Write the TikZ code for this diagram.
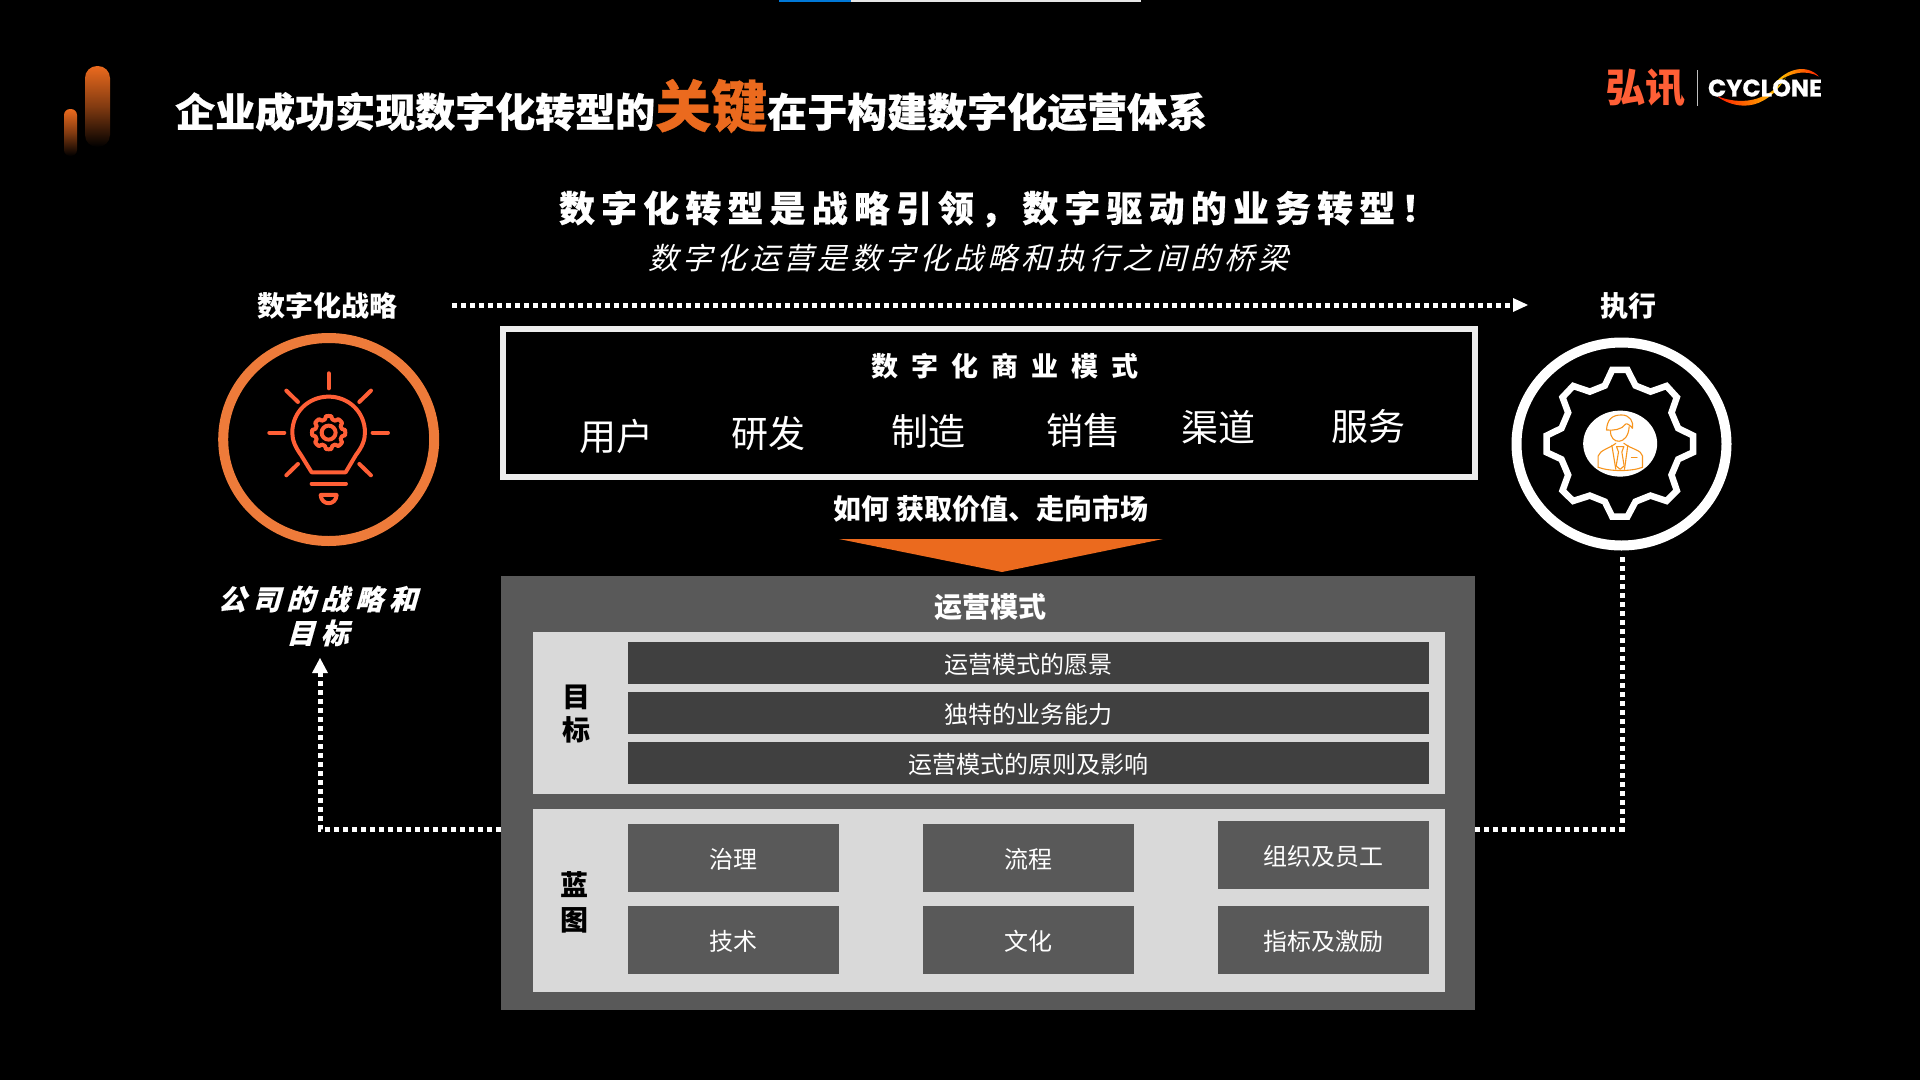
\documentclass[tikz,border=0pt]{standalone}
\usepackage{fontspec}
\usetikzlibrary{shapes.geometric,arrows.meta}
\setmainfont{Noto Sans CJK SC}
\newfontfamily\fheavy[FakeBold=0.6]{Noto Sans CJK SC}
\newfontfamily\fsub[LetterSpace=17,FakeBold=0.4]{Noto Sans CJK SC}
\newfontfamily\fbridge[FakeSlant=0.25,LetterSpace=13]{Noto Sans CJK SC}
\newfontfamily\fmodel[LetterSpace=48]{Noto Sans CJK SC}
\newfontfamily\fgoal[FakeSlant=0.28,LetterSpace=22,FakeBold=0.3]{Noto Sans CJK SC}
\newfontfamily\flogo[FakeBold=0.4]{Poppins}
\newcommand{\fsz}[1]{\fontsize{#1}{#1}\selectfont}
\definecolor{brand}{HTML}{EB6A1E}
\definecolor{bulbc}{HTML}{FF5F36}
\definecolor{ringc}{HTML}{EE7B3A}
\definecolor{boxgray}{HTML}{595959}
\definecolor{bardark}{HTML}{404040}
\definecolor{panel}{HTML}{D9D9D9}
\definecolor{personc}{HTML}{F7941D}
\definecolor{stripblue}{HTML}{0078D7}
\definecolor{stripgray}{HTML}{E6E6E6}
\tikzset{
  txt/.style={text=white,inner sep=0pt,outer sep=0pt,align=center},
  head/.style={txt,font=\fsz{28}\bfseries},
  menuitem/.style={txt,font=\fsz{37}},
  barbox/.style={fill=bardark,text=white,draw=none,inner sep=0pt,outer sep=0pt,minimum width=801pt,minimum height=42pt,font=\fsz{24},anchor=north west,text height=20pt,text depth=0pt},
  bluebox/.style={fill=boxgray,text=white,draw=none,inner sep=0pt,outer sep=0pt,minimum width=211pt,minimum height=68pt,font=\fsz{24},anchor=north west,text height=20pt,text depth=0pt},
  panelbox/.style={fill=panel,draw=none,inner sep=0pt,outer sep=0pt,minimum width=912pt,anchor=north west},
  sidelabel/.style={text=black,inner sep=0pt,font=\fsz{28}\bfseries},
  dotline/.style={white,line width=5pt,dash pattern=on 4.6pt off 4.4pt},
  tipfill/.style={white,draw=none,fill=white},
  ring/.style={ellipse,draw,line width=10pt,inner sep=0pt,outer sep=0pt,fill=none},
  iconline/.style={bulbc,line width=4pt,line cap=round,line join=round}
}
\begin{document}
\begin{tikzpicture}[x=1pt,y=-1pt]
\useasboundingbox (0,0) rectangle (1920,1079.6);
\fill[black] (-5,-5) rectangle (1925,1085);
% top progress strip
\fill[stripgray] (851,0) rectangle (1141,2);
\fill[stripblue] (779,0) rectangle (851,2);
% corner bars
\shade[top color=brand,bottom color=black,middle color=brand!55!black,rounded corners=12pt] (85,66) rectangle (110,147);
\shade[top color=brand,bottom color=black,middle color=brand!55!black,rounded corners=6pt] (64,109) rectangle (77,156);
% title
\node[anchor=base west,text=white,inner sep=0pt,font=\fsz{40}\fheavy\bfseries] (title1) at (175,127) {企业成功实现数字化转型的};
\node[anchor=base west,text=brand,inner sep=0pt,font=\fsz{56}\fheavy\bfseries] (title2) at (655,127) {关键};
\node[anchor=base west,text=white,inner sep=0pt,font=\fsz{40}\fheavy\bfseries] (title3) at (767,127) {在于构建数字化运营体系};
% logo
\node[anchor=center,text=bulbc,inner sep=0pt,font=\fsz{40}\bfseries] (logocn) at (1645,88) {弘讯};
\draw[white!75!black,line width=0.7pt] (1697,70) -- (1697,106);
\begin{scope}[x=0.3333pt,y=-0.3333pt,shift={(4800,180)}]
\shade[left color=red!80!orange,right color=yellow!70!orange,draw=none]
 (350,108) .. controls (400,145) and (490,165) .. (560,50) .. controls (500,130) and (420,135) .. (350,108) -- cycle;
\shade[left color=yellow!70!orange,right color=red!75!orange,draw=none]
 (520,75) .. controls (560,25) and (620,10) .. (658,50) .. controls (620,28) and (570,35) .. (520,75) -- cycle;
\end{scope}
\node[anchor=center,text=white,inner sep=0pt,font=\fsz{24}\flogo\bfseries] (logoen) at (1765,88) {CYCLONE};
% headings
\node[txt,font=\fsz{36}\fsub\bfseries,anchor=west] (sub1) at (559,209) {数字化转型是战略引领，数字驱动的业务转型！};
\node[txt,font=\fsz{30}\fbridge] (sub2) at (968.5,258) {数字化运营是数字化战略和执行之间的桥梁};
\node[head] (stratlabel) at (327,305.5) {数字化战略};
\node[head] (execlabel) at (1628,305.5) {执行};
% strategy icon
\node[ring,draw=ringc,minimum width=211pt,minimum height=203pt] (stratring) at (328.7,439.5) {};
\begin{scope}[x=0.3333pt,y=-0.3333pt,shift={(600,960)}]
\draw[iconline] (335,457) -- (437,457) -- (468,405) .. controls (487,380) and (495,360) .. (495,338)
   .. controls (495,275) and (445,230) .. (386,230) .. controls (327,230) and (277,275) .. (277,338)
   .. controls (277,360) and (285,380) .. (303,405) -- cycle;
\draw[iconline] (386,160) -- (386,205);
\draw[iconline] (208,338) -- (253,338);
\draw[iconline] (518,338) -- (564,338);
\draw[iconline] (259,212) -- (294,246);
\draw[iconline] (513,212) -- (478,246);
\draw[iconline] (294,432) -- (259,466);
\draw[iconline] (478,432) -- (513,466);
\draw[iconline] (335,491) -- (438,491);
\draw[iconline] (362,525) -- (410,525) .. controls (408,558) and (364,558) .. (362,525) -- cycle;
\begin{scope}[shift={(386,338)}]
\draw[iconline] (0:50) \foreach \a in {0,45,...,315}{ -- (\a+9:50) -- (\a+16:41) -- (\a+29:41) -- (\a+36:50) -- (\a+45:50)} -- cycle;
\draw[iconline] (0,0) circle[radius=21];
\end{scope}
\end{scope}
% execution icon
\node[ring,draw=white,minimum width=210pt,minimum height=203pt] (execring) at (1621.5,444) {};
\begin{scope}[x=0.3333pt,y=-0.3333pt,shift={(4470,960)}]
\draw[white,line width=6.5pt,line join=miter] (367,150) -- (413,150) -- (437,197) -- (482,215) -- (530,198) -- (561,232) -- (545,278) -- (565,325) -- (610,347) -- (610,397) -- (565,418) -- (545,465) -- (561,512) -- (530,543) -- (482,527) -- (437,545) -- (413,590) -- (367,590) -- (345,545) -- (300,527) -- (250,543) -- (218,512) -- (235,465) -- (215,418) -- (170,397) -- (170,347) -- (215,325) -- (235,278) -- (218,232) -- (250,198) -- (300,215) -- (345,197) -- cycle;
\fill[white] (391,371) ellipse[x radius=111,y radius=99];
\begin{scope}[personc,line width=1.1pt,line join=round,line cap=round]
\draw (350,330) .. controls (352,300) and (365,285) .. (395,285) .. controls (420,285) and (432,305) .. (428,325) .. controls (420,315) and (412,310) .. (408,312) .. controls (395,330) and (370,332) .. (350,330) -- cycle;
\draw (362,332) .. controls (360,375) and (415,378) .. (418,320);
\draw (325,442) -- (325,408) .. controls (330,390) and (360,385) .. (378,370);
\draw (402,370) .. controls (425,388) and (455,390) .. (458,408) -- (458,442);
\draw (325,442) .. controls (360,455) and (425,455) .. (458,442);
\draw (366,376) -- (378,448);
\draw (414,376) -- (404,448);
\draw (380,380) -- (402,380) -- (396,396) -- (403,438) -- (391,448) -- (379,438) -- (386,396) -- cycle;
\draw (425,412) -- (442,412);
\end{scope}
\end{scope}
% business model frame
\node[draw=white!93!black,line width=6pt,fill=none,inner sep=0pt,outer sep=0pt,minimum width=972pt,minimum height=148pt,anchor=north west] (frame) at (503,329) {};
\node[txt,font=\fsz{27}\fmodel\bfseries] (bm) at (1005,366) {数字化商业模式};
\node[menuitem] (i1) at (616,436) {用户};
\node[menuitem] (i2) at (768,433) {研发};
\node[menuitem] (i3) at (928,431) {制造};
\node[menuitem] (i4) at (1083,430) {销售};
\node[menuitem] (i5) at (1218,427) {渠道};
\node[menuitem] (i6) at (1368,426) {服务};
\node[txt,font=\fsz{28}\bfseries] (how) at (991,509) {如何 获取价值、走向市场};
\fill[brand] (839,539) -- (1163,539) -- (1002,572) -- cycle;
% operating model
\node[fill=boxgray,inner sep=0pt,outer sep=0pt,minimum width=974pt,minimum height=434pt,anchor=north west] (opbox) at (501,576) {};
\node[head] (optitle) at (990.5,607) {运营模式};
\node[panelbox,minimum height=162pt] (goalpanel) at (533,632) {};
\node[panelbox,minimum height=183pt] (bluepanel) at (533,809) {};
\node[barbox] (b1) at (628,642) {运营模式的愿景};
\node[barbox] (b2) at (628,692) {独特的业务能力};
\node[barbox] (b3) at (628,742) {运营模式的原则及影响};
\node[sidelabel] (g1) at (576,697) {目};
\node[sidelabel] (g2) at (576,730) {标};
\node[sidelabel] (l1) at (574,885) {蓝};
\node[sidelabel] (l2) at (574,920) {图};
\node[bluebox] (c1) at (628,824) {治理};
\node[bluebox] (c2) at (923,824) {流程};
\node[bluebox] (c3) at (1218,821) {组织及员工};
\node[bluebox] (c4) at (628,906) {技术};
\node[bluebox] (c5) at (923,906) {文化};
\node[bluebox] (c6) at (1218,906) {指标及激励};
% goal text
\node[text=white,inner sep=0pt,outer sep=0pt,align=center,font=\fontsize{28}{34}\selectfont\fgoal\bfseries] (goal) at (317.5,616) {公司的战略和\\目标};
% connectors
\coordinate (topstart) at (452,305);
\coordinate (topend) at (1514,305);
\coordinate (toptip) at (1528,305);
\draw[dotline] (topstart) -- (topend);
\fill[tipfill] (1513,298) -- (toptip) -- (1513,312) -- cycle;
\coordinate (lcorner) at (320,829);
\coordinate (ltip) at (320,658);
\coordinate (lend) at (320,673);
\draw[dotline] (opbox.west |- lcorner) -- (lcorner) -- (lend);
\fill[tipfill] (312,673) -- (ltip) -- (328,673) -- cycle;
\coordinate (rcorner) at (1622,829);
\draw[dotline] (opbox.east |- rcorner) -- (rcorner) -- (1622,556);
\end{tikzpicture}
\end{document}
